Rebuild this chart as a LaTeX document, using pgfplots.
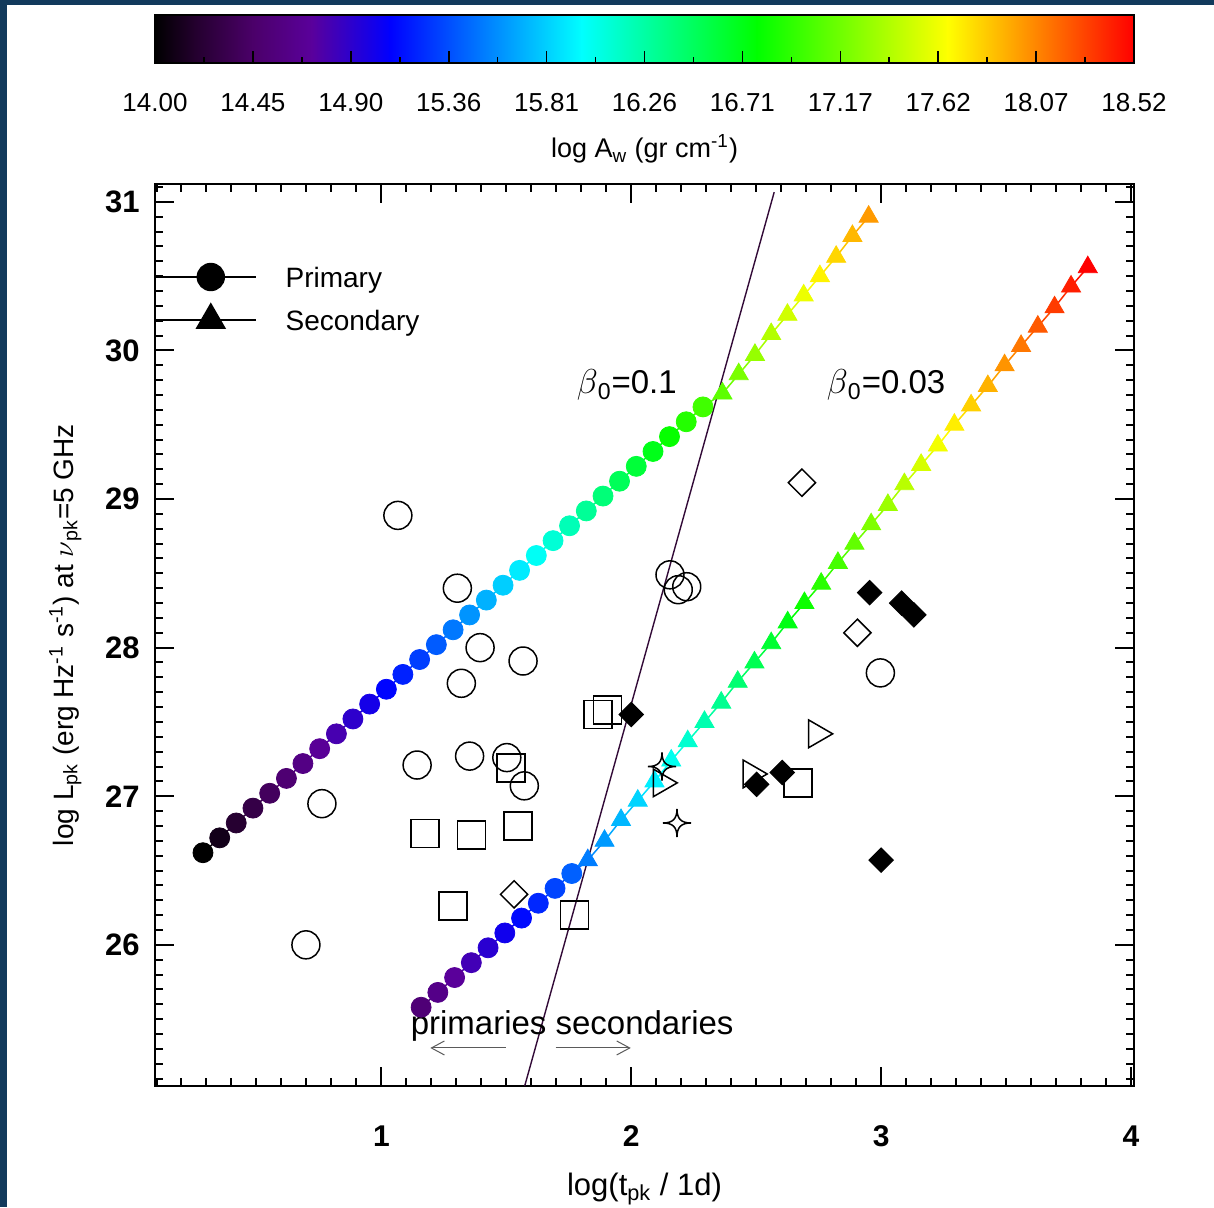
\documentclass[border=0pt]{standalone}
\usepackage{pgfplots}
\pgfplotsset{compat=1.18}
\usepackage{pgfplotstable}
\usepackage{fontspec}
\setmainfont{Liberation Sans}
\usetikzlibrary{arrows.meta}

\definecolor{frame}{RGB}{18,58,92}
\definecolor{steep}{RGB}{50,10,55}
\definecolor{arrowgray}{RGB}{90,90,90}
\definecolor{cA}{RGB}{0,0,0}
\definecolor{cB}{RGB}{35,0,45}
\definecolor{cC}{RGB}{75,0,105}
\definecolor{cD}{RGB}{90,0,155}
\definecolor{cE}{RGB}{0,0,255}
\definecolor{cF}{RGB}{0,255,255}
\definecolor{cG}{RGB}{0,255,0}
\definecolor{cH}{RGB}{255,255,0}
\definecolor{cI}{RGB}{255,0,0}

\pgfdeclareplotmark{astroid}{%
  \pgfpathmoveto{\pgfqpoint{0pt}{\pgfplotmarksize}}%
  \pgfpathcurveto{\pgfqpoint{0pt}{0.3\pgfplotmarksize}}{\pgfqpoint{0.3\pgfplotmarksize}{0pt}}{\pgfqpoint{\pgfplotmarksize}{0pt}}%
  \pgfpathcurveto{\pgfqpoint{0.3\pgfplotmarksize}{0pt}}{\pgfqpoint{0pt}{-0.3\pgfplotmarksize}}{\pgfqpoint{0pt}{-\pgfplotmarksize}}%
  \pgfpathcurveto{\pgfqpoint{0pt}{-0.3\pgfplotmarksize}}{\pgfqpoint{-0.3\pgfplotmarksize}{0pt}}{\pgfqpoint{-\pgfplotmarksize}{0pt}}%
  \pgfpathcurveto{\pgfqpoint{-0.3\pgfplotmarksize}{0pt}}{\pgfqpoint{0pt}{0.3\pgfplotmarksize}}{\pgfqpoint{0pt}{\pgfplotmarksize}}%
  \pgfpathclose\pgfusepathqstroke}

% beta0 = 0.1 model: 31 primaries (circles) then 10 secondaries (triangles)
\pgfplotstableread{
x y c
0.286 26.62 14.0
0.353 26.72 14.1
0.419 26.82 14.2
0.486 26.92 14.3
0.553 27.02 14.4
0.620 27.12 14.5
0.686 27.22 14.6
0.753 27.32 14.7
0.820 27.42 14.8
0.886 27.52 14.9
0.953 27.62 15.0
1.020 27.72 15.1
1.086 27.82 15.2
1.153 27.92 15.3
1.220 28.02 15.4
1.287 28.12 15.5
1.353 28.22 15.6
1.420 28.32 15.7
1.487 28.42 15.8
1.553 28.52 15.9
1.620 28.62 16.0
1.687 28.72 16.1
1.753 28.82 16.2
1.820 28.92 16.3
1.887 29.02 16.4
1.953 29.12 16.5
2.020 29.22 16.6
2.087 29.32 16.7
2.153 29.42 16.8
2.220 29.52 16.9
2.287 29.62 17.0
2.365 29.71 17.1
2.430 29.84 17.2
2.495 29.97 17.3
2.560 30.11 17.4
2.625 30.24 17.5
2.690 30.37 17.6
2.755 30.50 17.7
2.820 30.63 17.8
2.885 30.77 17.9
2.950 30.90 18.0
}\lineA

% beta0 = 0.03 model: 10 primaries (circles) then 31 secondaries (triangles)
\pgfplotstableread{
x y c
1.159 25.58 14.52
1.226 25.68 14.62
1.293 25.78 14.72
1.360 25.88 14.82
1.427 25.98 14.92
1.494 26.08 15.02
1.561 26.18 15.12
1.628 26.28 15.22
1.695 26.38 15.32
1.762 26.48 15.42
1.826 26.57 15.52
1.893 26.70 15.62
1.959 26.84 15.72
2.026 26.97 15.82
2.093 27.10 15.92
2.160 27.24 16.02
2.226 27.37 16.12
2.293 27.50 16.22
2.360 27.63 16.32
2.426 27.77 16.42
2.493 27.90 16.52
2.560 28.03 16.62
2.626 28.17 16.72
2.693 28.30 16.82
2.760 28.43 16.92
2.827 28.57 17.02
2.893 28.70 17.12
2.960 28.83 17.22
3.027 28.96 17.32
3.093 29.10 17.42
3.160 29.23 17.52
3.227 29.36 17.62
3.293 29.50 17.72
3.360 29.63 17.82
3.427 29.76 17.92
3.494 29.90 18.02
3.560 30.03 18.12
3.627 30.16 18.22
3.694 30.29 18.32
3.760 30.43 18.42
3.827 30.56 18.52
}\lineB

\begin{document}
\begin{tikzpicture}
\fill[frame] (0,0) rectangle (607pt,603.5pt);
\fill[white] (3.5pt,0) rectangle (607pt,601pt);

% ---- colour bar ----
\begin{axis}[
  at={(77.5pt,572pt)}, anchor=south west,
  scale only axis, width=489.5pt, height=24pt,
  xmin=14, xmax=18.52, ymin=0, ymax=1,
  axis on top,
  axis line style={line width=1pt},
  every tick/.style={black, line width=0.8pt},
  tick align=inside,
  major tick length=6pt, minor tick length=3pt,
  xtick={14,14.452,14.904,15.356,15.808,16.26,16.712,17.164,17.616,18.068,18.52},
  xticklabels={14.00,14.45,14.90,15.36,15.81,16.26,16.71,17.17,17.62,18.07,18.52},
  minor xtick={14.226,14.678,15.13,15.582,16.034,16.486,16.938,17.39,17.842,18.294},
  xtick pos=left, xticklabel pos=left,
  ytick=\empty,
  xticklabel style={font=\fontsize{13}{13}\selectfont, anchor=base, yshift=-24.5pt},
  xlabel={log A\textsubscript{w} (gr cm\textsuperscript{-1})},
  every axis x label/.style={at={(axis description cs:0.5,-1.979)}, anchor=base, font=\fontsize{13.5}{14}\selectfont},
]
\shade[left color=cA, right color=cB, shading angle=90] (axis cs:14,0) rectangle (axis cs:14.1818,1);
\shade[left color=cB, right color=cC] (axis cs:14.1798,0) rectangle (axis cs:14.454,1);
\shade[left color=cC, right color=cD] (axis cs:14.450,0) rectangle (axis cs:14.7252,1);
\shade[left color=cD, right color=cE] (axis cs:14.7212,0) rectangle (axis cs:15.0868,1);
\shade[left color=cE, right color=cF] (axis cs:15.0828,0) rectangle (axis cs:15.9727,1);
\shade[left color=cF, right color=cG] (axis cs:15.9687,0) rectangle (axis cs:16.7818,1);
\shade[left color=cG, right color=cH] (axis cs:16.7778,0) rectangle (axis cs:17.6632,1);
\shade[left color=cH, right color=cI] (axis cs:17.6592,0) rectangle (axis cs:18.52,1);
\end{axis}

% ---- main plot ----
\begin{axis}[
  at={(77.5pt,60.5pt)}, anchor=south west,
  scale only axis, width=489.5pt, height=451pt,
  xmin=0.094, xmax=4.012, ymin=25.05, ymax=31.12,
  axis line style={line width=1.2pt},
  every tick/.style={black, line width=1pt},
  tick align=inside,
  major tick length=9.5pt, minor tick length=4pt,
  xtick={1,2,3,4}, xticklabels={1,2,3,4},
  ytick={26,27,28,29,30,31}, yticklabels={26,27,28,29,30,31},
  minor xtick={0.1,0.2,...,4.0},
  minor ytick={25.1,25.2,...,31.1},
  xticklabel style={font=\fontsize{15}{15}\selectfont\bfseries, anchor=base, yshift=-30pt},
  yticklabel style={font=\fontsize{15.5}{15.5}\selectfont\bfseries, anchor=east, inner sep=0pt, xshift=-7.5pt},
  xlabel={log(t\textsubscript{pk} / 1d)},
  ylabel={log L\textsubscript{pk} (erg Hz\textsuperscript{-1} s\textsuperscript{-1}) at $\nu$\textsubscript{pk}=5 GHz},
  every axis x label/.style={at={(axis description cs:0.5,-0.12084)}, anchor=base, font=\fontsize{15.5}{16}\selectfont},
  every axis y label/.style={at={(axis description cs:-0.08376,0.5)}, rotate=90, anchor=base, font=\fontsize{14}{14}\selectfont},
  colormap={idl}{rgb255(0)=(0,0,0) rgb255(40)=(35,0,45) rgb255(100)=(75,0,105) rgb255(160)=(90,0,155) rgb255(240)=(0,0,255) rgb255(436)=(0,255,255) rgb255(615)=(0,255,0) rgb255(810)=(255,255,0) rgb255(1000)=(255,0,0)},
  point meta min=14, point meta max=18.52,
  legend style={at={(0,0.91175)}, anchor=north west, draw=none, fill=none,
    inner sep=0pt, outer sep=0pt, column sep=14.5pt, row sep=6.8pt,
    nodes={inner sep=0pt, text height=10pt, text depth=0pt},
    font=\fontsize{14}{14}\selectfont},
  legend cell align=left,
  legend image code/.code={\draw[mark repeat=2,mark phase=2,#1] plot coordinates {(0pt,0pt) (27.5pt,0pt) (50pt,0pt)};},
]
\addlegendimage{black, line width=0.8pt, mark=*, mark size=6.7pt}
\addlegendimage{black, line width=0.8pt, mark=triangle*, mark size=8pt}

% model tracks
\addplot[mesh, point meta=explicit, line width=0.75pt, forget plot] table[x=x,y=y,meta=c] {\lineA};
\addplot[mesh, point meta=explicit, line width=0.75pt, forget plot] table[x=x,y=y,meta=c] {\lineB};
\addplot[scatter, only marks, mark=*, mark size=5pt, scatter src=explicit,
  scatter/use mapped color={draw=mapped color, fill=mapped color},
  skip coords between index={31}{41}, forget plot] table[x=x,y=y,meta=c] {\lineA};
\addplot[scatter, only marks, mark=triangle*, mark size=5.5pt, scatter src=explicit,
  scatter/use mapped color={draw=mapped color, fill=mapped color},
  skip coords between index={0}{31}, forget plot] table[x=x,y=y,meta=c] {\lineA};
\addplot[scatter, only marks, mark=*, mark size=5pt, scatter src=explicit,
  scatter/use mapped color={draw=mapped color, fill=mapped color},
  skip coords between index={10}{41}, forget plot] table[x=x,y=y,meta=c] {\lineB};
\addplot[scatter, only marks, mark=triangle*, mark size=5.5pt, scatter src=explicit,
  scatter/use mapped color={draw=mapped color, fill=mapped color},
  skip coords between index={0}{10}, forget plot] table[x=x,y=y,meta=c] {\lineB};

% primary/secondary dividing line
\addplot[steep, line width=0.7pt, forget plot] coordinates {(1.5735,25.05) (2.572,31.065)};

% observed events
\addplot[only marks, mark=o, mark size=7pt, black, line width=0.75pt, forget plot] coordinates {
(1.066,28.89) (1.304,28.40) (1.395,28.00) (1.567,27.91) (1.320,27.76)
(1.143,27.21) (1.353,27.27) (1.502,27.26) (1.572,27.07) (0.762,26.95)
(0.698,26.00) (2.155,28.49) (2.188,28.39) (2.222,28.41) (2.997,27.83)};
\addplot[only marks, mark=square, mark size=7pt, black, line width=0.75pt, forget plot] coordinates {
(1.866,27.55) (1.904,27.58) (1.518,27.19) (1.174,26.75) (1.360,26.74)
(1.547,26.80) (1.286,26.26) (1.772,26.20) (2.667,27.09)};
\addplot[only marks, mark=square, mark size=4.8pt, mark options={rotate=45}, black, line width=0.75pt, forget plot] coordinates {
(2.683,29.11) (2.905,28.10) (1.531,26.34)};
\addplot[only marks, mark=square*, mark size=4.3pt, mark options={rotate=45, fill=black}, black, line width=0.5pt, forget plot] coordinates {
(2.000,27.55) (2.954,28.37) (3.082,28.30) (3.131,28.22) (2.502,27.08) (2.604,27.16) (3.000,26.57)};
\addplot[only marks, mark=triangle, mark size=8pt, mark options={rotate=-90}, black, line width=0.75pt, forget plot] coordinates {
(2.742,27.42) (2.480,27.15) (2.120,27.09)};
\addplot[only marks, mark=astroid, mark size=7pt, black, line width=0.75pt, forget plot] coordinates {
(2.123,27.20) (2.183,26.82)};

% annotation arrows
\addplot[arrowgray, line width=0.5pt, -{Straight Barb[length=6.5pt,width=7pt]}, forget plot] coordinates {(1.497,25.306) (1.196,25.306)};
\addplot[arrowgray, line width=0.5pt, -{Straight Barb[length=6.5pt,width=7pt]}, forget plot] coordinates {(1.697,25.306) (1.998,25.306)};

\node[font=\fontsize{16.5}{16.5}\selectfont] at (axis cs:1.982,29.765) {$\beta$\textsubscript{0}=0.1};
\node[font=\fontsize{16.5}{16.5}\selectfont] at (axis cs:3.020,29.765) {$\beta$\textsubscript{0}=0.03};
\node[font=\fontsize{16.5}{16.5}\selectfont, anchor=base] at (axis cs:1.7635,25.40) {primaries secondaries};

\legend{Primary,Secondary}
\end{axis}
\pgfresetboundingbox
\path[use as bounding box] (0,0) rectangle (607pt,603.5pt);
\end{tikzpicture}
\end{document}
